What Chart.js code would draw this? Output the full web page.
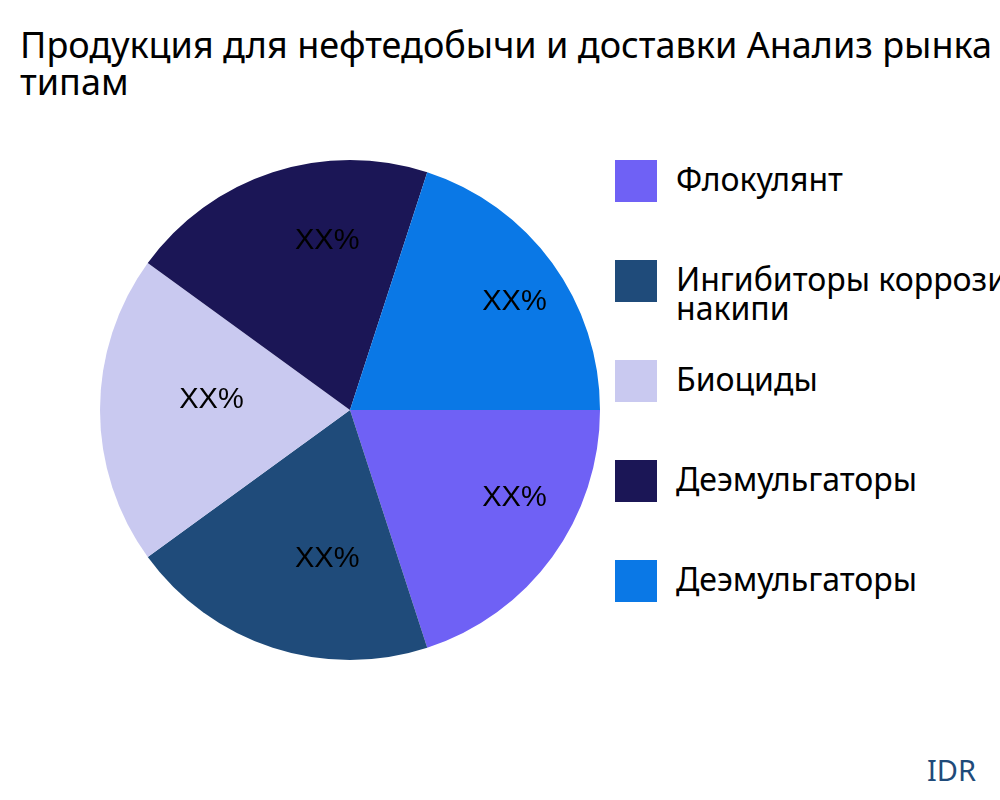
<!DOCTYPE html>
<html>
<head>
<meta charset="utf-8">
<script src="https://cdn.jsdelivr.net/npm/chart.js@4"></script>
<style>
  html, body { margin: 0; width: 1000px; height: 800px; overflow: hidden; background: #fff; font-family: "Noto Sans", sans-serif; }
  #title { position: absolute; left: 20px; top: 26px; font-size: 36px; line-height: 37px; white-space: nowrap; color: #000; }
  #wrap { position: absolute; left: 100px; top: 160px; width: 500px; height: 500px; }
  #legend { position: absolute; left: 615px; top: 160px; }
  .item { position: absolute; left: 0; width: 420px; }
  .box { position: absolute; left: 0; top: 0; width: 42px; height: 42px; }
  .lbl { position: absolute; left: 61px; top: 0; font-size: 32px; line-height: 29px; white-space: nowrap; }
  #idr { position: absolute; left: 927px; top: 750px; font-size: 29px; color: #1F4B7A; }
</style>
</head>
<body>
<div id="title">Продукция для нефтедобычи и доставки Анализ рынка по<br>типам</div>
<div id="wrap"><canvas id="myChart" width="500" height="500"></canvas></div>
<div id="legend"></div>
<div id="idr">IDR</div>
<script>
const categories = ['Флокулянт', 'Ингибиторы коррозии и\nнакипи', 'Биоциды', 'Деэмульгаторы', 'Деэмульгаторы'];
const values = [20, 20, 20, 20, 20];
const sliceLabels = ['XX%', 'XX%', 'XX%', 'XX%', 'XX%'];
const colors = ['#6F61F5', '#1F4B7A', '#C9C9F0', '#1B1656', '#0A78E6'];

// legend
const legend = document.getElementById('legend');
categories.forEach((c, i) => {
  const item = document.createElement('div');
  item.className = 'item';
  item.style.top = (i * 100) + 'px';
  item.innerHTML = '<div class="box" style="background:' + colors[i] + '"></div>' +
    '<div class="lbl" style="top:4px">' + c.split('\n').join('<br>') + '</div>';
  legend.appendChild(item);
});

// draw "XX%" inside each slice
const sliceText = {
  id: 'sliceText',
  afterDatasetsDraw(chart) {
    const ctx = chart.ctx;
    ctx.save();
    ctx.font = '29px "Liberation Sans", sans-serif';
    ctx.fillStyle = '#000';
    ctx.textAlign = 'center';
    ctx.textBaseline = 'middle';
    chart.getDatasetMeta(0).data.forEach((arc, i) => {
      const a = (arc.startAngle + arc.endAngle) / 2;
      const R = arc.outerRadius;
      const r = R * 0.67;
      ctx.fillText(sliceLabels[i], arc.x + Math.cos(a) * r + R * 0.116, arc.y + Math.sin(a) * r - R * 0.04);
    });
    ctx.restore();
  }
};

const ctx = document.getElementById('myChart').getContext('2d');
new Chart(ctx, {
  type: 'pie',
  data: {
    labels: categories,
    datasets: [{
      data: values,
      backgroundColor: colors,
      borderWidth: 0
    }]
  },
  options: {
    responsive: false,
    animation: false,
    rotation: 90,
    layout: { padding: 0 },
    plugins: { legend: { display: false }, tooltip: { enabled: false } }
  },
  plugins: [sliceText]
});
</script>
</body>
</html>
